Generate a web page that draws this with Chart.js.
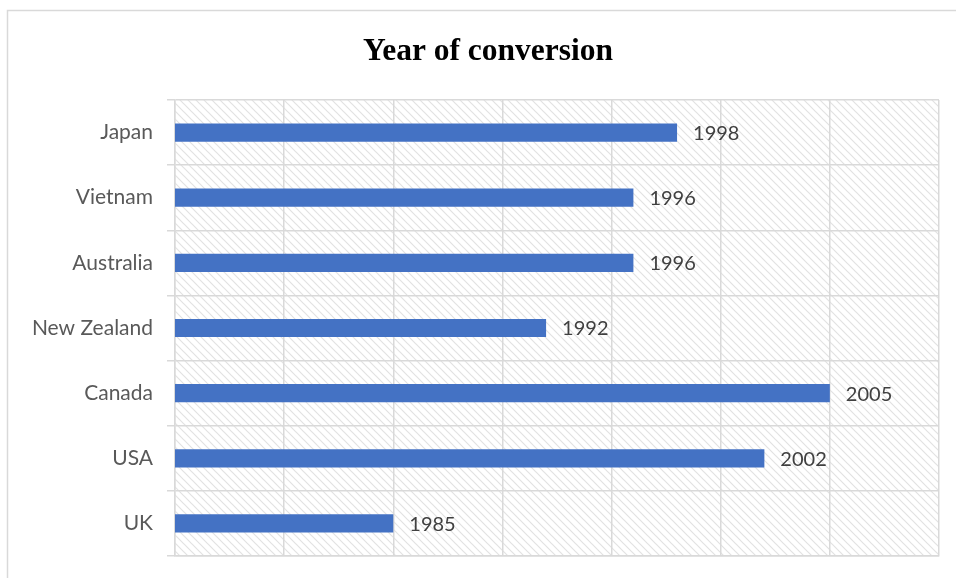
<!DOCTYPE html>
<html>
<head>
<meta charset="utf-8">
<script src="https://cdn.jsdelivr.net/npm/chart.js@4.4.0/dist/chart.umd.min.js"></script>
<style>
html,body{margin:0;padding:0;background:#fff;}
#wrap{width:956px;height:578px;position:relative;}
</style>
</head>
<body>
<div id="wrap"><canvas id="c" width="956" height="578"></canvas></div>
<script>
const categories = ["Japan", "Vietnam", "Australia", "New Zealand", "Canada", "USA", "UK"];
const years = [1998, 1996, 1996, 1992, 2005, 2002, 1985];
const titleText = "Year of conversion";

function makeHatch() {
  const p = document.createElement('canvas');
  p.width = 8; p.height = 8;
  const g = p.getContext('2d');
  g.fillStyle = '#ffffff';
  g.fillRect(0, 0, 8, 8);
  g.strokeStyle = '#e2e2e2';
  g.lineWidth = 1.2;
  g.beginPath();
  g.moveTo(-2, -2); g.lineTo(10, 10);
  g.moveTo(-10, -2); g.lineTo(2, 10);
  g.moveTo(6, -2); g.lineTo(18, 10);
  g.stroke();
  return p;
}

const decor = {
  id: 'decor',
  beforeDraw(chart) {
    const ctx = chart.ctx;
    const a = chart.chartArea;
    ctx.save();
    ctx.strokeStyle = '#d9d9d9';
    ctx.lineWidth = 1.5;
    ctx.beginPath();
    ctx.moveTo(7.5, 578);
    ctx.lineTo(7.5, 10.5);
    ctx.lineTo(956, 10.5);
    ctx.stroke();
    ctx.fillStyle = ctx.createPattern(makeHatch(), 'repeat');
    ctx.fillRect(a.left, a.top, a.right - a.left, a.bottom - a.top);
    ctx.fillStyle = '#000000';
    ctx.font = 'bold 31.5px "Liberation Serif", "Times New Roman", serif';
    ctx.textAlign = 'center';
    ctx.textBaseline = 'alphabetic';
    ctx.fillText(titleText, 488, 60);
    ctx.restore();
  },
  afterDatasetsDraw(chart) {
    const ctx = chart.ctx;
    const meta = chart.getDatasetMeta(0);
    ctx.save();
    ctx.fillStyle = '#404040';
    ctx.font = '20px Lato, "Open Sans", sans-serif';
    ctx.textAlign = 'left';
    ctx.textBaseline = 'middle';
    meta.data.forEach((bar, i) => {
      ctx.fillText(String(years[i]), bar.x + 16, bar.y + 1);
    });
    ctx.restore();
  }
};

new Chart(document.getElementById('c'), {
  type: 'bar',
  data: {
    labels: categories,
    datasets: [{
      data: years,
      backgroundColor: '#4472c4',
      borderWidth: 0,
      barPercentage: 0.28,
      categoryPercentage: 1.0
    }]
  },
  options: {
    indexAxis: 'y',
    responsive: false,
    animation: false,
    layout: { padding: { top: 100, bottom: 22, right: 17, left: 0 } },
    plugins: { legend: { display: false }, title: { display: false }, tooltip: { enabled: false } },
    scales: {
      x: {
        min: 1975, max: 2010,
        afterFit(scale) { scale.height = 0; },
        ticks: { display: false, stepSize: 5 },
        grid: { color: '#d9d9d9', lineWidth: 1.5, drawTicks: false },
        border: { display: true, color: '#d9d9d9', width: 1.5 }
      },
      y: {
        afterFit(scale) { scale.width = 175; scale.paddingTop = 0; scale.paddingBottom = 0; },
        ticks: { color: '#595959', font: { family: 'Lato, "Open Sans", sans-serif', size: 21 }, padding: 14 },
        grid: { color: '#d9d9d9', lineWidth: 1.5, offset: true, drawTicks: true, tickLength: 8 },
        border: { display: true, color: '#d9d9d9', width: 1.5 }
      }
    }
  },
  plugins: [decor]
});
</script>
</body>
</html>
